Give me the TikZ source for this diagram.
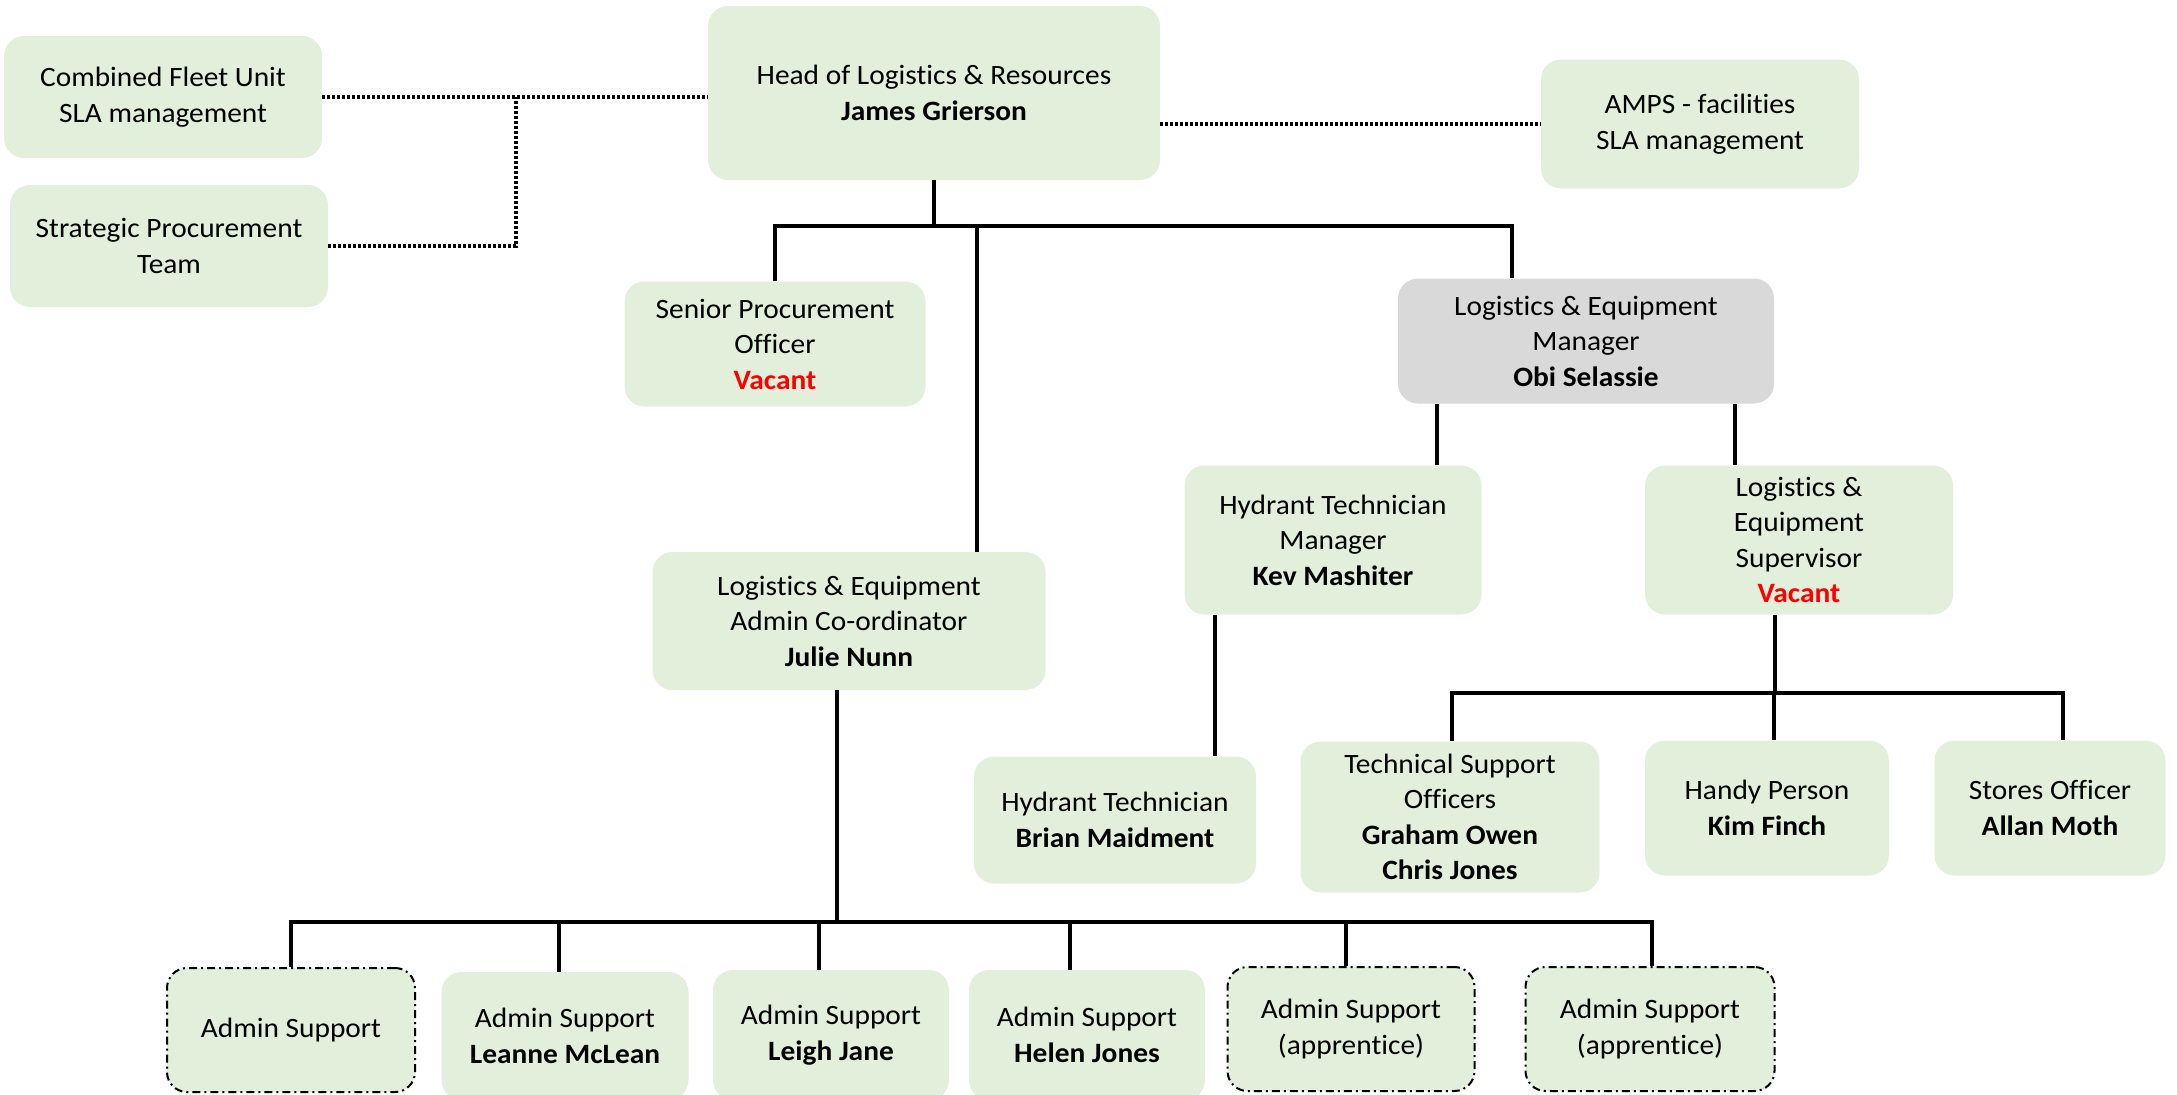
\documentclass[tikz,border=0pt]{standalone}
\usepackage{fontspec}
\setmainfont{Carlito}[Ligatures=NoCommon, FakeStretch=1.05]
\definecolor{boxgreen}{HTML}{E2EFDA}
\definecolor{boxgrey}{HTML}{D9D9D9}
\definecolor{vacantred}{HTML}{FF0000}
\newcommand{\vacant}{\textbf{\color{vacantred}Vacant}}
\begin{document}
\begin{tikzpicture}[x=1pt,y=-1pt,
  box/.style={fill=boxgreen, draw=none, rounded corners=20pt, align=center,
    inner sep=0pt, font=\fontsize{28}{35.5}\selectfont},
  greybox/.style={box, fill=boxgrey},
  openbox/.style={box, draw=black, line width=2pt,
    dash pattern=on 8pt off 4pt on 2pt off 4pt},
  link/.style={draw=black, line width=3.5pt},
  dotlink/.style={draw=black, line width=3.5pt, dash pattern=on 3pt off 2pt}]
\useasboundingbox (0,0) rectangle (2177,1095);

% top row
\node[box, minimum width=318pt, minimum height=122pt] (cfu) at (163,97)
  {Combined Fleet Unit\\SLA management};
\node[box, minimum width=318pt, minimum height=122pt] (spt) at (169,246)
  {Strategic Procurement\\Team};
\node[box, minimum width=452pt, minimum height=174pt] (head) at (934,93)
  {Head of Logistics \& Resources\\\textbf{James Grierson}};
\node[box, minimum width=318pt, minimum height=129pt] (amps) at (1700,124)
  {AMPS - facilities\\SLA management};

% second level
\node[box, minimum width=301pt, minimum height=125pt] (spo) at (775,344)
  {Senior Procurement\\Officer\\\vacant};
\node[greybox, minimum width=376pt, minimum height=125pt] (lem) at (1586,341)
  {Logistics \& Equipment\\Manager\\\textbf{Obi Selassie}};

% third level
\node[box, minimum width=297pt, minimum height=149pt] (htm) at (1333,540)
  {Hydrant Technician\\Manager\\\textbf{Kev Mashiter}};
\node[box, minimum width=308pt, minimum height=149pt] (les) at (1799,540)
  {Logistics \&\\Equipment\\Supervisor\\\vacant};
\node[box, minimum width=393pt, minimum height=138pt] (leac) at (849,621)
  {Logistics \& Equipment\\Admin Co-ordinator\\\textbf{Julie Nunn}};

% fourth level
\node[box, minimum width=282pt, minimum height=127pt] (ht) at (1115,820)
  {Hydrant Technician\\\textbf{Brian Maidment}};
\node[box, minimum width=299pt, minimum height=151pt] (tso) at (1450,817)
  {Technical Support\\Officers\\\textbf{Graham Owen}\\\textbf{Chris Jones}};
\node[box, minimum width=244pt, minimum height=135pt] (hp) at (1767,808)
  {Handy Person\\\textbf{Kim Finch}};
\node[box, minimum width=231pt, minimum height=135pt] (so) at (2050,808)
  {Stores Officer\\\textbf{Allan Moth}};

% admin support row
\node[openbox, minimum width=248pt, minimum height=124pt] (as1) at (291,1030)
  {Admin Support};
\node[box, minimum width=247pt, minimum height=128pt] (as2) at (565,1036)
  {Admin Support\\\textbf{Leanne McLean}};
\node[box, minimum width=236pt, minimum height=130pt] (as3) at (831,1035)
  {Admin Support\\\textbf{Leigh Jane}};
\node[box, minimum width=236pt, minimum height=130pt] (as4) at (1087,1035)
  {Admin Support\\\textbf{Helen Jones}};
\node[openbox, minimum width=247pt, minimum height=124pt] (as5) at (1351,1029)
  {Admin Support\\(apprentice)};
\node[openbox, minimum width=249pt, minimum height=124pt] (as6) at (1650,1029)
  {Admin Support\\(apprentice)};

% bus levels and drop positions
\coordinate (busA) at (0,226);
\coordinate (busB) at (0,693);
\coordinate (busC) at (0,922);
\coordinate (jx) at (516,0);
\coordinate (xc) at (977,0);
\coordinate (xl) at (1512,0);
\coordinate (xh1) at (1437,0);
\coordinate (xh2) at (1735,0);
\coordinate (xht) at (1215,0);
\coordinate (xs) at (1775,0);
\coordinate (xt1) at (1452,0);
\coordinate (xt2) at (1774,0);
\coordinate (xt3) at (2063,0);
\coordinate (xa) at (837,0);
\coordinate (xa1) at (291,0);
\coordinate (xa2) at (559,0);
\coordinate (xa3) at (819,0);
\coordinate (xa4) at (1070,0);
\coordinate (xa5) at (1346,0);
\coordinate (xa6) at (1652,0);

% dotted service links
\draw[dotlink] (cfu.east) -- (cfu.east -| head.west);
\draw[dotlink] (spt.east) -| (jx |- cfu.east);
\draw[dotlink] (head.east |- amps.west) -- (amps.west);

% head of logistics
\draw[link] (head.south) -- (head.south |- busA);
\draw[link] (spo.north) |- (xl |- busA) -- (xl |- lem.north);
\draw[link] (xc |- busA) -- (xc |- leac.north);

% logistics & equipment manager
\draw[link] (xh1 |- lem.south) -- (xh1 |- htm.north);
\draw[link] (xh2 |- lem.south) -- (xh2 |- les.north);
\draw[link] (xht |- htm.south) -- (xht |- ht.north);

% supervisor team
\draw[link] (xs |- les.south) -- (xs |- busB);
\draw[link] (xt1 |- tso.north) |- (xt3 |- busB) -- (xt3 |- so.north);
\draw[link] (xt2 |- busB) -- (xt2 |- hp.north);

% admin team
\draw[link] (xa |- leac.south) -- (xa |- busC);
\draw[link] (xa1 |- as1.north) |- (xa6 |- busC) -- (xa6 |- as6.north);
\draw[link] (xa2 |- busC) -- (xa2 |- as2.north);
\draw[link] (xa3 |- busC) -- (xa3 |- as3.north);
\draw[link] (xa4 |- busC) -- (xa4 |- as4.north);
\draw[link] (xa5 |- busC) -- (xa5 |- as5.north);
\end{tikzpicture}
\end{document}
